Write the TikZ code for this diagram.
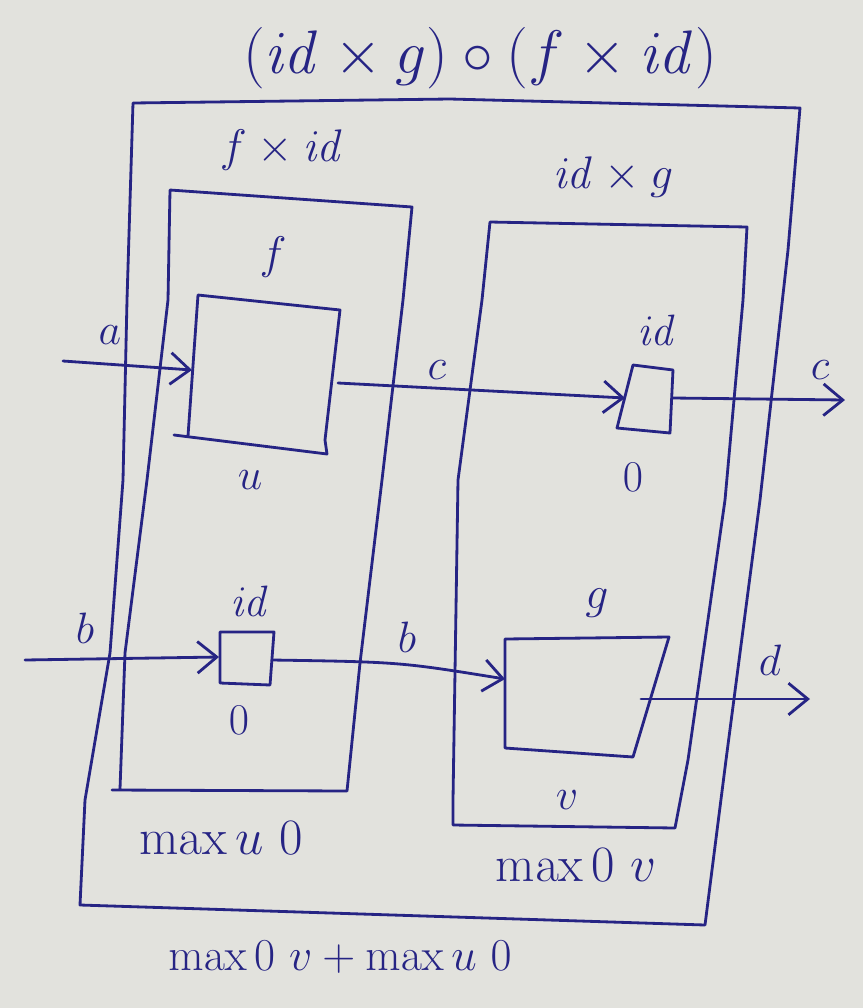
\RequirePackage{fix-cm}
\documentclass[tikz,border=0pt]{standalone}
\usetikzlibrary{arrows.meta}
\definecolor{ink}{RGB}{38,36,132}
\definecolor{paper}{RGB}{226,226,221}
\tikzset{
  box/.style={draw=ink,line width=1.6pt,line join=round,line cap=round},
  wire/.style={draw=ink,line width=1.6pt,line cap=round,-{Straight Barb[length=11pt,width=18pt,line width=1.6pt]}},
  big/.style={text=ink,font=\fontsize{35}{40}\selectfont,inner sep=0pt},
  lbl/.style={text=ink,font=\fontsize{26}{30}\selectfont,inner sep=0pt},
  cst/.style={text=ink,font=\fontsize{29}{33}\selectfont,inner sep=0pt},
  sumst/.style={text=ink,font=\fontsize{26}{30}\selectfont,inner sep=0pt},
  sml/.style={text=ink,font=\fontsize{25}{29}\selectfont,inner sep=0pt}
}
\begin{document}
\begin{tikzpicture}[x=0.02cm,y=-0.02cm]
\fill[paper] (0,0) rectangle (863,1008);
\useasboundingbox (0,0) rectangle (863,1008);

% outer box
\draw[box] (133,103) -- (450,99) -- (800,108) -- (788,250) -- (760,500) -- (726,760) -- (705,925)
  -- (80,905) -- (85,800) -- (110,653) -- (123,480) -- (127,300) -- cycle;
% f x id box
\draw[box] (170,190) -- (412,207) -- (403,300) -- (382,480) -- (360,663) -- (347,791)
  -- (112,790) (120,789) -- (125,653) -- (147,480) -- (168,300) -- (170,190);
% id x g box
\draw[box] (490,222) -- (747,227) -- (743,300) -- (725,500) -- (688,760) -- (675,828)
  -- (453,825) -- (453,800) -- (458,480) -- (482,300) -- cycle;
% f box
\draw[box] (198,295) -- (340,310) -- (325,440) -- (327,454) -- (174,435) (188,436) -- (198,295);
% id box (upper, in id x g)
\draw[box] (633,365) -- (673,370) -- (670,433) -- (617,428) -- cycle;
% id box (lower, in f x id)
\draw[box] (220,632) -- (274,632) -- (270,685) -- (220,683) -- cycle;
% g box
\draw[box] (505,639) -- (669,637) -- (633,757) -- (505,748) -- cycle;

% ports
\coordinate (ain) at (63,361);
\coordinate (fin) at (192,370);
\coordinate (fout) at (338,383);
\coordinate (idain) at (625,398);
\coordinate (idaout) at (673,398);
\coordinate (cout) at (845,400);
\coordinate (bin) at (25,660);
\coordinate (idbin) at (219,657);
\coordinate (idbout) at (272,660);
\coordinate (gin) at (505,679);
\coordinate (gout) at (641,699);
\coordinate (dout) at (810,699);

% connectors
\draw[wire] (ain) -- (fin);
\draw[wire] (fout) -- (idain);
\draw[wire] (idaout) -- (cout);
\draw[wire] (bin) -- (idbin);
\draw[wire] (idbout) .. controls (400,662) .. (gin);
\draw[wire] (gout) -- (dout);

% labels
\node[big] (title) at (480,58) {$(\mathit{id}\times g)\circ(f\times\mathit{id})$};
\node[lbl] (tfid) at (282,150) {$f\times\mathit{id}$};
\node[lbl] (tidg) at (613,177) {$\mathit{id}\times g$};
\node[lbl] (tf) at (273,257) {$f$};
\node[sml] (ta) at (110,335) {$a$};
\node[sml] (tc1) at (437,370) {$c$};
\node[sml] (tida) at (657,330) {$\mathit{id}$};
\node[sml] (tc2) at (820,370) {$c$};
\node[sml] (tu) at (250,480) {$u$};
\node[sml] (t0a) at (633,477) {$0$};
\node[sml] (tidb) at (250,601) {$\mathit{id}$};
\node[sml] (tb1) at (85,628) {$b$};
\node[sml] (tb2) at (407,637) {$b$};
\node[lbl] (tg) at (597,603) {$g$};
\node[sml] (td) at (770,660) {$d$};
\node[sml] (t0b) at (239,720) {$0$};
\node[sml] (tv) at (567,800) {$v$};
\node[cst] (tmaxu) at (221,838) {$\max u\ 0$};
\node[cst] (tmaxv) at (576,865) {$\max 0\ v$};
\node[sumst] (tsum) at (340,957) {$\max 0\ v+\max u\ 0$};
\end{tikzpicture}
\end{document}
